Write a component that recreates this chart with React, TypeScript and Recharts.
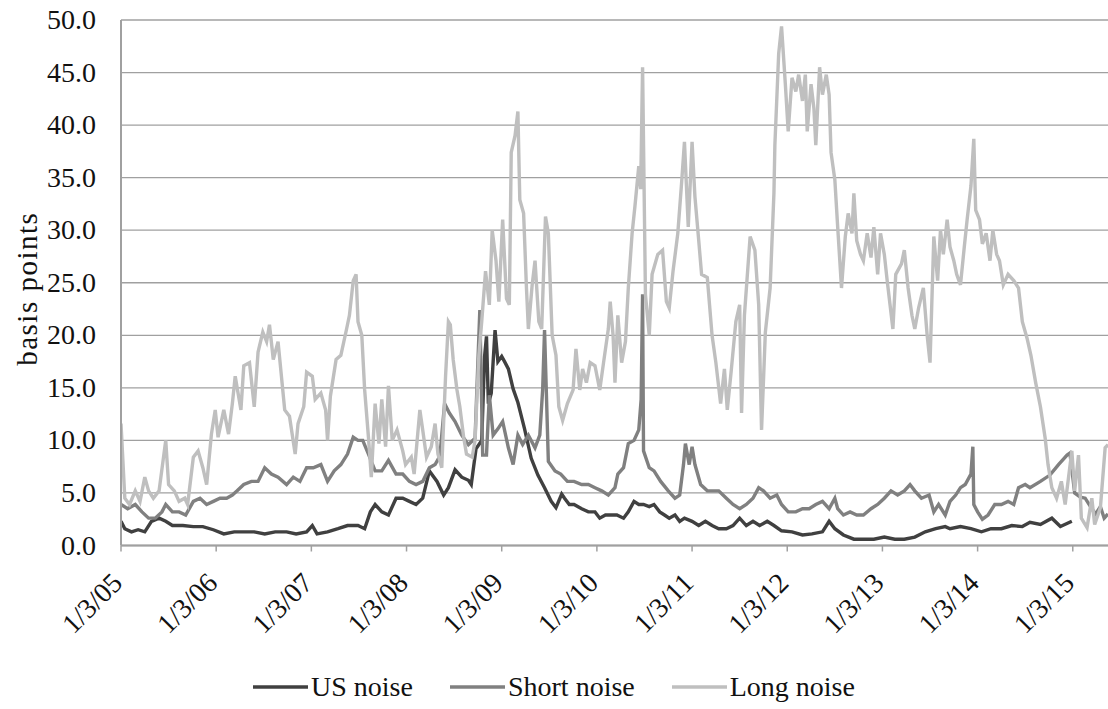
import React from 'react'
import { LineChart, Line, XAxis, YAxis, CartesianGrid, Legend } from 'recharts'

// [year fraction, basis points]
const US_NOISE: [number, number][] = [
  [2005.0, 2.3], [2005.04, 1.6], [2005.11, 1.3], [2005.18, 1.5], [2005.25, 1.3], [2005.32, 2.3],
  [2005.4, 2.6], [2005.47, 2.3], [2005.54, 1.9], [2005.65, 1.9], [2005.76, 1.8], [2005.86, 1.8],
  [2005.97, 1.5], [2006.08, 1.1], [2006.19, 1.3], [2006.29, 1.3], [2006.4, 1.3], [2006.51, 1.1],
  [2006.62, 1.3], [2006.74, 1.3], [2006.84, 1.1], [2006.95, 1.3], [2007.01, 1.9], [2007.06, 1.1],
  [2007.17, 1.3], [2007.28, 1.6], [2007.38, 1.9], [2007.49, 1.9], [2007.56, 1.6], [2007.62, 3.2],
  [2007.67, 3.9], [2007.74, 3.2], [2007.81, 2.9], [2007.89, 4.5], [2007.96, 4.5], [2008.03, 4.2],
  [2008.1, 3.9], [2008.17, 4.5], [2008.24, 7.1], [2008.32, 6.1], [2008.39, 4.8], [2008.44, 5.5],
  [2008.51, 7.2], [2008.58, 6.5], [2008.65, 6.2], [2008.68, 5.8], [2008.73, 9.2], [2008.79, 10.0],
  [2008.82, 18.0], [2008.84, 19.9], [2008.86, 13.5], [2008.89, 14.5], [2008.93, 20.5], [2008.96, 17.5],
  [2009.0, 18.0], [2009.03, 17.5], [2009.07, 16.8], [2009.12, 14.9], [2009.17, 13.6], [2009.24, 11.1],
  [2009.31, 8.3], [2009.38, 6.7], [2009.45, 5.5], [2009.52, 4.2], [2009.57, 3.6], [2009.63, 4.9],
  [2009.66, 4.5], [2009.71, 3.9], [2009.76, 3.9], [2009.84, 3.5], [2009.91, 3.2], [2009.98, 3.2],
  [2010.03, 2.6], [2010.09, 2.9], [2010.14, 2.9], [2010.21, 2.9], [2010.28, 2.6], [2010.33, 3.2],
  [2010.39, 4.2], [2010.44, 3.9], [2010.49, 3.9], [2010.55, 3.7], [2010.6, 3.9], [2010.66, 3.2],
  [2010.71, 2.9], [2010.76, 2.6], [2010.82, 2.9], [2010.87, 2.3], [2010.92, 2.6], [2011.0, 2.3],
  [2011.07, 1.9], [2011.14, 2.3], [2011.21, 1.9], [2011.28, 1.6], [2011.36, 1.6], [2011.43, 1.9],
  [2011.5, 2.6], [2011.57, 1.9], [2011.64, 2.3], [2011.71, 1.9], [2011.79, 2.3], [2011.86, 1.9],
  [2011.94, 1.4], [2012.05, 1.3], [2012.16, 1.0], [2012.26, 1.1], [2012.37, 1.3], [2012.44, 2.3],
  [2012.5, 1.6], [2012.59, 1.0], [2012.7, 0.6], [2012.8, 0.6], [2012.91, 0.6], [2013.02, 0.8],
  [2013.13, 0.6], [2013.23, 0.6], [2013.34, 0.8], [2013.45, 1.3], [2013.56, 1.6], [2013.66, 1.8],
  [2013.71, 1.6], [2013.82, 1.8], [2013.93, 1.6], [2014.04, 1.3], [2014.14, 1.6], [2014.25, 1.6],
  [2014.36, 1.9], [2014.47, 1.8], [2014.55, 2.2], [2014.66, 2.0], [2014.78, 2.6], [2014.87, 1.8],
  [2014.99, 2.3],
]

const SHORT_NOISE: [number, number][] = [
  [2005.0, 3.9], [2005.07, 3.5], [2005.15, 3.9], [2005.22, 3.2], [2005.29, 2.6], [2005.36, 2.6],
  [2005.43, 3.2], [2005.47, 3.9], [2005.54, 3.2], [2005.61, 3.2], [2005.68, 2.9], [2005.76, 4.2],
  [2005.83, 4.5], [2005.9, 3.9], [2005.97, 4.2], [2006.04, 4.5], [2006.11, 4.5], [2006.17, 4.8],
  [2006.22, 5.2], [2006.29, 5.8], [2006.37, 6.1], [2006.44, 6.1], [2006.51, 7.4], [2006.58, 6.8],
  [2006.65, 6.5], [2006.74, 5.8], [2006.81, 6.5], [2006.88, 6.1], [2006.95, 7.4], [2007.02, 7.4],
  [2007.1, 7.7], [2007.17, 6.1], [2007.24, 7.1], [2007.31, 7.7], [2007.38, 8.7], [2007.44, 10.3],
  [2007.49, 10.0], [2007.54, 10.0], [2007.6, 8.7], [2007.67, 7.1], [2007.74, 7.1], [2007.81, 8.1],
  [2007.89, 6.8], [2007.96, 6.8], [2008.03, 6.1], [2008.1, 5.8], [2008.17, 6.1], [2008.24, 7.4],
  [2008.3, 7.7], [2008.35, 8.5], [2008.4, 13.5], [2008.45, 12.6], [2008.51, 11.8], [2008.58, 10.5],
  [2008.65, 9.6], [2008.72, 10.2], [2008.77, 22.4], [2008.8, 8.6], [2008.84, 8.6], [2008.87, 14.3],
  [2008.91, 10.5], [2008.96, 11.1], [2009.01, 11.8], [2009.07, 9.3], [2009.12, 7.7], [2009.17, 10.5],
  [2009.22, 9.6], [2009.28, 10.5], [2009.35, 9.3], [2009.4, 10.5], [2009.43, 14.8], [2009.45, 20.5],
  [2009.49, 8.0], [2009.56, 7.1], [2009.62, 6.8], [2009.69, 6.1], [2009.76, 6.1], [2009.84, 5.8],
  [2009.91, 5.8], [2009.98, 5.5], [2010.05, 5.2], [2010.12, 4.8], [2010.19, 5.5], [2010.22, 6.8],
  [2010.28, 7.4], [2010.33, 9.7], [2010.39, 10.0], [2010.44, 11.0], [2010.465, 13.9], [2010.48, 23.9],
  [2010.49, 9.0], [2010.55, 7.4], [2010.6, 7.1], [2010.67, 6.1], [2010.75, 5.2], [2010.82, 4.5],
  [2010.87, 4.8], [2010.91, 7.7], [2010.93, 9.7], [2010.97, 7.7], [2011.0, 9.4], [2011.03, 7.7],
  [2011.09, 5.8], [2011.16, 5.2], [2011.21, 5.2], [2011.28, 5.2], [2011.36, 4.5], [2011.43, 3.9],
  [2011.5, 3.5], [2011.57, 3.9], [2011.64, 4.5], [2011.7, 5.5], [2011.75, 5.2], [2011.82, 4.5],
  [2011.89, 4.8], [2011.94, 3.9], [2012.01, 3.2], [2012.09, 3.2], [2012.16, 3.5], [2012.23, 3.5],
  [2012.3, 3.9], [2012.37, 4.2], [2012.44, 3.5], [2012.5, 4.5], [2012.53, 3.5], [2012.59, 2.9],
  [2012.66, 3.2], [2012.73, 2.9], [2012.8, 2.9], [2012.88, 3.5], [2012.95, 3.9], [2013.02, 4.5],
  [2013.09, 5.2], [2013.16, 4.8], [2013.23, 5.2], [2013.29, 5.8], [2013.34, 5.2], [2013.41, 4.5],
  [2013.49, 4.8], [2013.54, 3.2], [2013.59, 3.9], [2013.66, 2.9], [2013.71, 4.2], [2013.77, 4.8],
  [2013.82, 5.5], [2013.87, 5.8], [2013.93, 6.8], [2013.95, 9.4], [2013.96, 3.9], [2014.0, 3.2],
  [2014.05, 2.5], [2014.11, 2.9], [2014.18, 3.9], [2014.25, 3.9], [2014.32, 4.2], [2014.38, 3.9],
  [2014.43, 5.5], [2014.5, 5.8], [2014.55, 5.5], [2014.66, 6.1], [2014.76, 6.7], [2014.85, 7.7],
  [2014.94, 8.6], [2014.97, 8.8], [2015.02, 5.0], [2015.08, 4.6], [2015.13, 4.5], [2015.2, 3.5],
  [2015.24, 3.0], [2015.29, 3.7], [2015.33, 2.6], [2015.37, 3.0],
]

const LONG_NOISE: [number, number][] = [
  [2005.0, 11.6], [2005.04, 4.5], [2005.09, 3.9], [2005.15, 5.2], [2005.2, 4.2], [2005.25, 6.5],
  [2005.29, 5.2], [2005.34, 4.5], [2005.4, 5.2], [2005.47, 10.0], [2005.5, 5.8], [2005.56, 5.2],
  [2005.61, 4.2], [2005.67, 4.5], [2005.7, 3.9], [2005.76, 8.4], [2005.81, 9.0], [2005.86, 7.4],
  [2005.9, 5.8], [2005.95, 10.6], [2005.99, 12.9], [2006.02, 10.3], [2006.08, 12.9], [2006.13, 10.6],
  [2006.17, 13.5], [2006.2, 16.1], [2006.26, 12.9], [2006.29, 17.1], [2006.35, 17.4], [2006.4, 13.2],
  [2006.44, 18.4], [2006.49, 20.3], [2006.53, 19.4], [2006.56, 21.0], [2006.6, 17.7], [2006.65, 19.4],
  [2006.72, 12.9], [2006.77, 12.3], [2006.83, 8.7], [2006.86, 11.6], [2006.92, 13.2], [2006.95, 16.5],
  [2007.01, 16.1], [2007.04, 13.9], [2007.1, 14.5], [2007.15, 12.9], [2007.17, 10.0], [2007.2, 14.2],
  [2007.26, 17.7], [2007.31, 18.1], [2007.37, 20.6], [2007.4, 21.9], [2007.44, 25.2], [2007.47, 25.8],
  [2007.49, 21.3], [2007.53, 20.0], [2007.56, 14.8], [2007.6, 10.3], [2007.63, 6.5], [2007.67, 13.5],
  [2007.71, 9.7], [2007.74, 13.9], [2007.78, 9.4], [2007.81, 15.2], [2007.85, 10.0], [2007.9, 11.0],
  [2007.96, 9.0], [2007.99, 7.7], [2008.05, 8.4], [2008.08, 6.8], [2008.14, 12.9], [2008.17, 11.0],
  [2008.21, 8.4], [2008.26, 9.4], [2008.3, 11.6], [2008.33, 8.7], [2008.37, 7.4], [2008.41, 16.1],
  [2008.44, 21.3], [2008.46, 21.0], [2008.49, 17.7], [2008.53, 14.8], [2008.56, 13.2], [2008.6, 10.3],
  [2008.63, 8.7], [2008.69, 8.4], [2008.72, 10.0], [2008.76, 18.1], [2008.79, 21.3], [2008.83, 26.1],
  [2008.87, 22.9], [2008.9, 30.0], [2008.94, 27.1], [2008.97, 23.2], [2009.01, 31.0], [2009.05, 23.5],
  [2009.08, 22.9], [2009.1, 37.4], [2009.14, 39.0], [2009.17, 41.3], [2009.19, 32.9], [2009.23, 31.6],
  [2009.26, 24.5], [2009.28, 20.6], [2009.32, 24.8], [2009.35, 27.1], [2009.39, 21.3], [2009.42, 20.6],
  [2009.46, 31.3], [2009.49, 29.7], [2009.53, 20.0], [2009.57, 18.1], [2009.6, 13.2], [2009.64, 11.9],
  [2009.69, 13.5], [2009.75, 14.8], [2009.78, 18.7], [2009.82, 14.8], [2009.85, 16.8], [2009.89, 15.5],
  [2009.93, 17.4], [2009.98, 17.1], [2010.03, 14.8], [2010.07, 17.4], [2010.12, 20.6], [2010.14, 23.2],
  [2010.17, 20.0], [2010.19, 15.5], [2010.22, 21.9], [2010.26, 17.4], [2010.3, 19.4], [2010.33, 24.5],
  [2010.37, 29.7], [2010.4, 32.3], [2010.44, 36.1], [2010.46, 33.9], [2010.48, 45.5], [2010.51, 23.9],
  [2010.55, 20.0], [2010.58, 25.8], [2010.64, 27.7], [2010.69, 28.1], [2010.73, 23.2], [2010.76, 22.6],
  [2010.8, 26.1], [2010.85, 29.7], [2010.89, 34.5], [2010.92, 38.4], [2010.96, 30.3], [2011.0, 38.4],
  [2011.03, 33.2], [2011.07, 29.0], [2011.1, 25.8], [2011.16, 25.5], [2011.21, 20.0], [2011.25, 17.4],
  [2011.3, 13.5], [2011.34, 16.8], [2011.37, 12.9], [2011.41, 16.5], [2011.46, 21.3], [2011.5, 22.9],
  [2011.52, 12.6], [2011.55, 21.9], [2011.61, 29.4], [2011.66, 28.1], [2011.7, 22.9], [2011.73, 11.0],
  [2011.77, 20.3], [2011.82, 24.5], [2011.86, 33.5], [2011.87, 38.1], [2011.91, 46.8], [2011.94, 49.4],
  [2011.98, 43.9], [2012.01, 39.4], [2012.05, 44.5], [2012.09, 43.2], [2012.12, 44.8], [2012.16, 42.3],
  [2012.19, 44.8], [2012.21, 39.4], [2012.25, 43.9], [2012.28, 41.6], [2012.3, 38.1], [2012.34, 45.5],
  [2012.37, 42.9], [2012.41, 44.8], [2012.44, 42.9], [2012.46, 37.4], [2012.5, 34.8], [2012.53, 30.3],
  [2012.57, 24.5], [2012.61, 29.4], [2012.64, 31.6], [2012.68, 29.7], [2012.7, 33.5], [2012.73, 29.0],
  [2012.77, 27.7], [2012.8, 27.1], [2012.84, 29.7], [2012.88, 27.4], [2012.91, 30.3], [2012.95, 25.8],
  [2012.98, 29.7], [2013.02, 27.7], [2013.05, 25.2], [2013.11, 20.6], [2013.14, 25.8], [2013.2, 26.8],
  [2013.23, 28.1], [2013.27, 24.5], [2013.31, 21.9], [2013.34, 20.6], [2013.38, 22.6], [2013.43, 24.5],
  [2013.47, 20.0], [2013.5, 17.4], [2013.54, 29.4], [2013.58, 25.2], [2013.61, 30.0], [2013.64, 27.7],
  [2013.68, 31.0], [2013.71, 28.4], [2013.75, 27.1], [2013.78, 25.8], [2013.82, 24.8], [2013.86, 28.4],
  [2013.89, 31.0], [2013.93, 34.2], [2013.96, 38.7], [2013.98, 31.9], [2014.02, 31.0], [2014.05, 28.7],
  [2014.09, 29.7], [2014.13, 27.1], [2014.16, 30.0], [2014.2, 27.7], [2014.23, 27.1], [2014.27, 24.8],
  [2014.32, 25.8], [2014.38, 25.2], [2014.43, 24.5], [2014.47, 21.3], [2014.52, 19.7], [2014.56, 18.1],
  [2014.61, 15.5], [2014.66, 13.2], [2014.71, 10.2], [2014.74, 7.7], [2014.78, 5.5], [2014.83, 4.5],
  [2014.88, 6.1], [2014.92, 3.9], [2014.99, 9.0], [2015.02, 5.2], [2015.06, 8.6], [2015.09, 2.6],
  [2015.15, 1.7], [2015.2, 4.5], [2015.23, 2.0], [2015.29, 3.6], [2015.34, 9.3], [2015.37, 9.6],
]

const YEAR_TICKS = [2005, 2006, 2007, 2008, 2009, 2010, 2011, 2012, 2013, 2014, 2015]
const VALUE_TICKS = [0, 5, 10, 15, 20, 25, 30, 35, 40, 45, 50]

const SERIES = [
  { name: 'US noise', points: US_NOISE, color: '#404040' },
  { name: 'Short noise', points: SHORT_NOISE, color: '#808080' },
  { name: 'Long noise', points: LONG_NOISE, color: '#bfbfbf' },
]

const FONT = 'Liberation Serif'
const AXIS_GRAY = '#a0a0a0'

const toRows = (pts: [number, number][]) => pts.map(([t, v]) => ({ t, v }))

function DateTick({ x, y, payload }: any) {
  const yr = String(payload.value - 2000).padStart(2, '0')
  const ax = x + 3
  const ay = y + 31
  return (
    <text x={ax} y={ay} textAnchor="end" transform={`rotate(-45 ${ax} ${ay})`}
      style={{ fontFamily: FONT, fontSize: 28 }} fill="#111">
      {`1/3/${yr}`}
    </text>
  )
}

function ValueTick({ x, y, payload }: any) {
  return (
    <text x={x} y={y + 9} textAnchor="end" style={{ fontFamily: FONT, fontSize: 28 }} fill="#111">
      {payload.value.toFixed(1)}
    </text>
  )
}

function NoiseLegend() {
  return (
    <div style={{ display: 'flex', justifyContent: 'center', alignItems: 'center', height: 44, paddingLeft: 37, fontFamily: FONT, fontSize: 28, color: '#111' }}>
      {SERIES.map((s) => (
        <div key={s.name} style={{ display: 'flex', alignItems: 'center', marginRight: 37 }}>
          <svg width={55} height={10}>
            <line x1={0} y1={5} x2={55} y2={5} stroke={s.color} strokeWidth={3.5} />
          </svg>
          <span style={{ marginLeft: 3 }}>{s.name}</span>
        </div>
      ))}
    </div>
  )
}

export default function App() {
  return (
    <div style={{ position: 'absolute', left: 0, top: 0, width: 1108, height: 709, background: '#fff', fontFamily: FONT }}>
      <style>{`.recharts-wrapper, .recharts-wrapper * { font-family: 'Liberation Serif' !important; }`}</style>
      <LineChart width={1108} height={709} margin={{ top: 20, right: 0, bottom: 0, left: 0 }}>
        <CartesianGrid vertical={false} stroke={AXIS_GRAY} strokeWidth={1.3} />
        <XAxis dataKey="t" type="number" domain={[2005, 2015.37]} ticks={YEAR_TICKS} allowDataOverflow
          height={119.5} tick={<DateTick />} tickSize={6} interval={0}
          axisLine={{ stroke: AXIS_GRAY, strokeWidth: 2 }} tickLine={{ stroke: AXIS_GRAY, strokeWidth: 1.5 }} />
        <YAxis type="number" domain={[0, 50]} ticks={VALUE_TICKS} width={121} interval={0}
          tickLine={false} tickMargin={19} tick={<ValueTick />}
          axisLine={{ stroke: AXIS_GRAY, strokeWidth: 2 }}
          label={({ viewBox }: any) => {
            const cx = viewBox.x + 27
            const cy = viewBox.y + viewBox.height / 2 + 6
            return (
              <text x={cx} y={cy} textAnchor="middle" dominantBaseline="central" transform={`rotate(-90 ${cx} ${cy})`}
                style={{ fontFamily: FONT, fontSize: 29, letterSpacing: 1.5 }} fill="#111">
                basis points
              </text>
            )
          }} />
        <Legend verticalAlign="bottom" height={44} content={() => <NoiseLegend />} />
        {SERIES.map((s) => (
          <Line key={s.name} data={toRows(s.points)} dataKey="v" name={s.name} type="linear"
            stroke={s.color} strokeWidth={3.4} dot={false} isAnimationActive={false} />
        ))}
      </LineChart>
    </div>
  )
}
